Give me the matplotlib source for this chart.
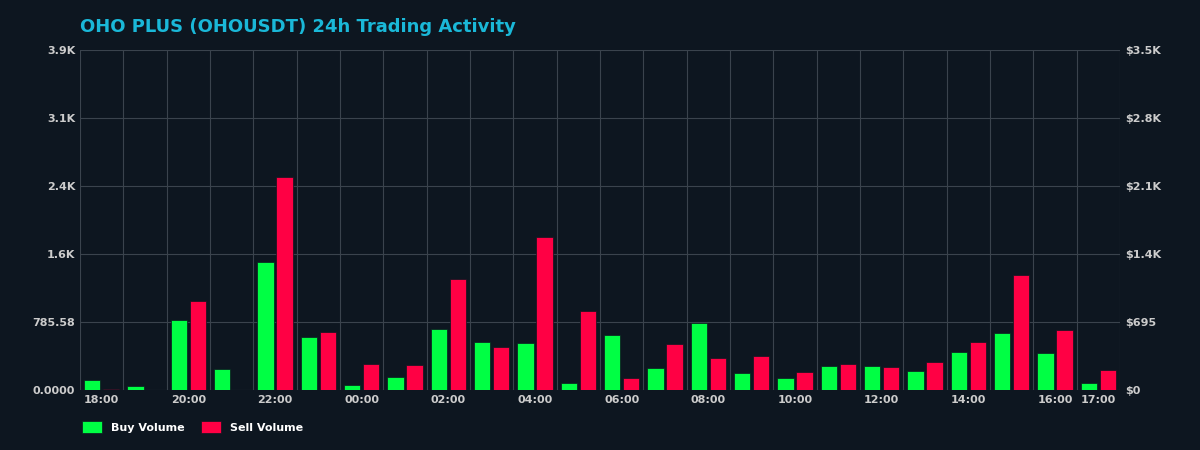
import matplotlib
matplotlib.use("Agg")
import matplotlib.pyplot as plt
import numpy as np
from matplotlib.ticker import FixedLocator, FixedFormatter

hours = ["18:00","19:00","20:00","21:00","22:00","23:00","00:00","01:00","02:00","03:00","04:00","05:00",
         "06:00","07:00","08:00","09:00","10:00","11:00","12:00","13:00","14:00","15:00","16:00","17:00"]
buy = [116,46,809,243,1479,612,58,150,705,555,543,81,635,254,774,196,139,277,277,219,439,658,427,81]
sell = [10,5,910,5,2177,593,266,256,1134,440,1564,807,123,470,327,348,184,266,235,286,491,1175,613,204]
left_ticks = [0, 785.58, 1571.16, 2356.74, 3142.32, 3927.9]
left_labels = ["0.0000", "785.58", "1.6K", "2.4K", "3.1K", "3.9K"]
right_ticks = [0, 695, 1390, 2085, 2780, 3475]
right_labels = ["$0", "$695", "$1.4K", "$2.1K", "$2.8K", "$3.5K"]

bg = "#0d1620"
fig = plt.figure(figsize=(12, 4.5), dpi=100, facecolor=bg)
ax = fig.add_axes([80/1200, 60/450, 1040/1200, 340/450])
ax.set_facecolor(bg)
ax2 = ax.twinx()
x = np.arange(len(hours))
w = 0.38
ax.bar(x - 0.22, buy, w, color="#00ff44", edgecolor="#0d1620", linewidth=0.5, label="Buy Volume", zorder=3)
ax2.bar(x + 0.22, sell, w, color="#ff0044", edgecolor="#0d1620", linewidth=0.5, label="Sell Volume", zorder=3)
ax.set_xlim(-0.5, len(hours) - 0.5)
ax.set_ylim(0, 3927.9)
ax2.set_ylim(0, 3475)
ax.yaxis.set_major_locator(FixedLocator(left_ticks))
ax.yaxis.set_major_formatter(FixedFormatter(left_labels))
ax2.yaxis.set_major_locator(FixedLocator(right_ticks))
ax2.yaxis.set_major_formatter(FixedFormatter(right_labels))
ax.set_xticks(np.arange(-0.5, len(hours) + 0.5, 1), minor=True)
tick_idx = list(range(0, 23, 2)) + [23]
ax.set_xticks(tick_idx)
ax.set_xticklabels([hours[i] for i in tick_idx])
ax.grid(True, which="minor", axis="x", color="#3a434d", linewidth=0.8, zorder=0)
ax.grid(True, which="major", axis="y", color="#3a434d", linewidth=0.8, zorder=0)
ax.tick_params(axis="x", which="both", length=0, colors="#cccccc", labelsize=8)
ax.tick_params(axis="y", length=0, colors="#cccccc", labelsize=8)
ax2.tick_params(axis="y", length=0, colors="#cccccc", labelsize=8)
for a in (ax, ax2):
    for s in a.spines.values():
        s.set_visible(False)
for t in ax.get_xticklabels() + ax.get_yticklabels() + ax2.get_yticklabels():
    t.set_fontweight("bold")
fig.text(80/1200, 1 - 27/450, "OHO PLUS (OHOUSDT) 24h Trading Activity", color="#1ab8d8",
         fontsize=13, fontweight="bold", va="center")
h1, l1 = ax.get_legend_handles_labels()
h2, l2 = ax2.get_legend_handles_labels()
leg = fig.legend(h1 + h2, l1 + l2, loc="center left", bbox_to_anchor=(72/1200, 1 - 427/450),
                 ncol=2, frameon=False, fontsize=8, handlelength=1.8, handleheight=1.3, columnspacing=1.5)
for t in leg.get_texts():
    t.set_color("white"); t.set_fontweight("bold")
fig.savefig("out.png", facecolor=bg)
